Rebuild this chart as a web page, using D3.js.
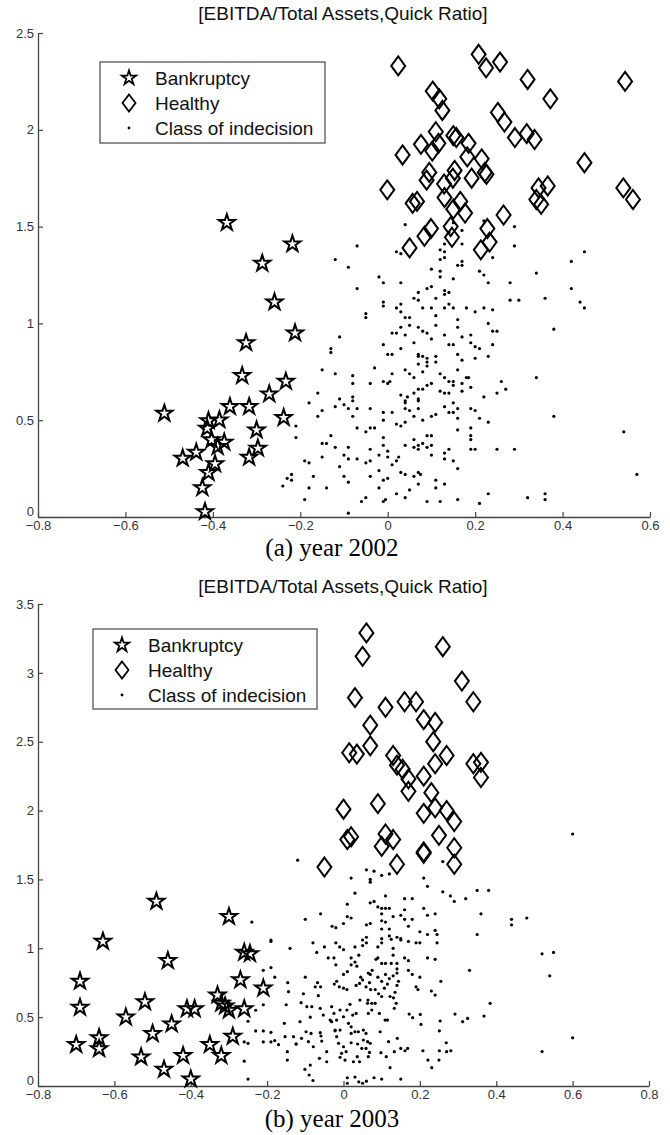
<!DOCTYPE html>
<html>
<head>
<meta charset="utf-8">
<script src="https://cdn.jsdelivr.net/npm/d3@7"></script>
<style>
  body { margin: 0; background: #fff; }
  svg { display: block; }
</style>
</head>
<body>
<svg id="chart" width="670" height="1135"></svg>
<script>
"use strict";

const chartTitle = "[EBITDA/Total Assets,Quick Ratio]";
const legendLabels = ["Bankruptcy", "Healthy", "Class of indecision"];

// year 2002
const xTicks2002 = [-0.8, -0.6, -0.4, -0.2, 0, 0.2, 0.4, 0.6];
const yTicks2002 = [0, 0.5, 1, 1.5, 2, 2.5];

const bankruptcy2002 = [
  [-0.287, 1.31], [-0.218, 1.41], [-0.368, 1.52], [-0.259, 1.11], [-0.212, 0.95],
  [-0.324, 0.90], [-0.333, 0.73], [-0.233, 0.70], [-0.271, 0.635], [-0.361, 0.57],
  [-0.317, 0.57], [-0.511, 0.535], [-0.238, 0.513], [-0.410, 0.497], [-0.385, 0.501],
  [-0.413, 0.458], [-0.300, 0.449], [-0.403, 0.398], [-0.374, 0.386], [-0.389, 0.363],
  [-0.297, 0.355], [-0.317, 0.308], [-0.469, 0.303], [-0.438, 0.334], [-0.395, 0.274],
  [-0.410, 0.229], [-0.424, 0.151], [-0.418, 0.027]
];

const healthy2002 = [
  [0.024, 2.33], [0.208, 2.39], [0.225, 2.32], [0.257, 2.35], [0.320, 2.26],
  [0.543, 2.25], [0.372, 2.16], [0.103, 2.20], [0.118, 2.16], [0.125, 2.10],
  [0.252, 2.09], [0.267, 2.04], [0.110, 1.99], [0.150, 1.97], [0.157, 1.96],
  [0.076, 1.925], [0.116, 1.93], [0.102, 1.89], [0.185, 1.93], [0.291, 1.96],
  [0.318, 1.98], [0.336, 1.95], [0.034, 1.87], [0.182, 1.86], [0.215, 1.85],
  [0.222, 1.78], [0.226, 1.77], [0.153, 1.79], [0.095, 1.78], [0.089, 1.74],
  [0.149, 1.75], [0.192, 1.75], [0.450, 1.83], [0.129, 1.72], [-0.001, 1.69],
  [0.130, 1.65], [0.345, 1.70], [0.366, 1.71], [0.340, 1.64], [0.351, 1.615],
  [0.539, 1.70], [0.561, 1.64], [0.057, 1.62], [0.067, 1.63], [0.166, 1.63],
  [0.150, 1.59], [0.177, 1.57], [0.265, 1.56], [0.084, 1.45], [0.099, 1.49],
  [0.144, 1.50], [0.147, 1.445], [0.228, 1.49], [0.233, 1.42], [0.213, 1.38],
  [0.050, 1.39]
];

const indecision2002 = [
  [0.04, 1.51], [0.13, 1.41], [0.14, 1.47], [0.17, 1.48], [-0.07, 1.40], [0.02, 1.37],
  [0.03, 1.36], [0.12, 1.38], [0.13, 1.37], [0.17, 1.41], [0.29, 1.50], [0.29, 1.40],
  [0.45, 1.37], [0.12, 1.33], [0.13, 1.34], [0.24, 1.34], [0.16, 1.30], [0.17, 1.30],
  [0.17, 1.32], [-0.12, 1.33], [-0.09, 1.29], [0.42, 1.32], [0.22, 1.53], [0.15, 1.52],
  [0.10, 1.28], [0.12, 1.27], [0.12, 1.24], [0.15, 1.23], [0.21, 1.27], [0.22, 1.25],
  [0.34, 1.26], [-0.02, 1.24], [-0.01, 1.21], [0.03, 1.21], [0.23, 1.21], [0.28, 1.21],
  [-0.07, 1.18], [0.09, 1.18], [0.10, 1.19], [0.13, 1.17], [0.14, 1.16], [0.13, 1.15],
  [0.11, 1.13], [0.42, 1.18], [0.07, 1.16], [0.06, 1.13], [0.07, 1.12], [0.28, 1.12],
  [0.30, 1.12], [0.36, 1.13], [0.44, 1.11], [0.45, 1.08],
  [-0.01, 1.09], [-0.01, 1.11], [0.02, 1.08], [0.03, 1.06], [0.03, 1.10], [0.04, 1.03],
  [0.05, 1.03], [0.08, 1.08], [0.10, 1.08], [0.11, 1.04], [0.13, 1.08], [0.14, 1.10],
  [0.15, 1.08], [0.16, 1.02], [0.18, 1.08], [0.20, 1.06], [0.22, 1.08], [0.24, 1.07],
  [0.23, 1.00], [0.24, 0.96], [0.25, 0.96], [0.38, 0.97], [-0.05, 1.05], [-0.05, 1.03],
  [0.11, 0.99], [0.05, 0.99], [0.07, 0.98], [0.08, 0.96], [0.09, 0.95], [0.16, 0.98],
  [0.03, 0.98], [0.01, 0.95], [0.02, 0.95], [-0.11, 0.93],
  [-0.01, 0.89], [0.04, 0.94], [0.06, 0.90], [0.10, 0.92], [0.13, 0.94], [0.14, 0.89],
  [0.15, 0.89], [0.17, 0.93], [0.19, 0.94], [0.19, 0.90], [0.20, 0.88], [0.21, 0.87],
  [0.24, 0.89], [0.03, 0.87], [0.00, 0.84], [0.01, 0.84], [-0.13, 0.85], [-0.13, 0.87],
  [0.07, 0.84], [0.07, 0.83], [0.08, 0.83], [0.09, 0.82], [0.11, 0.83], [0.16, 0.84],
  [0.17, 0.81], [0.20, 0.82], [0.23, 0.83], [0.09, 0.80], [0.11, 0.80], [0.09, 0.78],
  [0.07, 0.79],
  [-0.15, 0.76], [-0.12, 0.74], [-0.08, 0.73], [-0.08, 0.69], [-0.04, 0.69], [-0.03, 0.77],
  [-0.01, 0.70], [0.00, 0.69], [0.005, 0.70], [0.01, 0.74], [0.04, 0.76], [0.05, 0.74],
  [0.06, 0.72], [0.08, 0.75], [0.09, 0.68], [0.10, 0.69], [0.12, 0.74], [0.13, 0.72],
  [0.14, 0.70], [0.15, 0.70], [0.15, 0.68], [0.16, 0.76], [0.17, 0.69], [0.18, 0.72],
  [0.185, 0.72], [0.19, 0.67], [0.17, 0.65], [0.27, 0.66], [0.26, 0.70], [0.25, 0.64],
  [0.22, 0.62], [0.34, 0.72], [-0.16, 0.64], [-0.18, 0.59], [-0.11, 0.61], [-0.08, 0.60],
  [-0.08, 0.62], [-0.12, 0.57], [0.03, 0.63], [0.04, 0.60], [0.045, 0.62], [0.06, 0.64],
  [0.07, 0.66], [0.08, 0.66], [0.07, 0.61], [0.04, 0.59], [0.07, 0.60], [0.12, 0.65],
  [0.13, 0.64], [0.15, 0.59], [0.14, 0.64],
  [-0.15, 0.55], [-0.16, 0.52], [-0.10, 0.58], [-0.09, 0.56], [-0.07, 0.56], [-0.08, 0.52],
  [-0.07, 0.46], [-0.05, 0.44], [-0.04, 0.56], [-0.04, 0.46], [-0.03, 0.46], [-0.01, 0.54],
  [-0.01, 0.50], [0.01, 0.54], [0.02, 0.48], [0.03, 0.47], [0.04, 0.49], [0.04, 0.56],
  [0.05, 0.55], [0.06, 0.52], [0.07, 0.56], [0.08, 0.50], [0.10, 0.52], [0.11, 0.53],
  [0.13, 0.57], [0.14, 0.54], [0.15, 0.54], [0.16, 0.56], [0.16, 0.51], [0.19, 0.56],
  [0.20, 0.55], [0.21, 0.51], [0.23, 0.49], [0.16, 0.45], [0.19, 0.46], [0.38, 0.52],
  [-0.21, 0.47], [-0.21, 0.41], [0.54, 0.44],
  [-0.15, 0.38], [-0.14, 0.38], [-0.13, 0.42], [-0.15, 0.31], [-0.12, 0.36], [-0.11, 0.26],
  [-0.10, 0.32], [-0.09, 0.30], [-0.09, 0.36], [-0.07, 0.30], [-0.04, 0.35], [-0.05, 0.28],
  [-0.04, 0.29], [-0.02, 0.32], [-0.01, 0.41], [-0.01, 0.37], [0.00, 0.31], [0.00, 0.34],
  [0.01, 0.27], [0.02, 0.29], [0.025, 0.31], [0.04, 0.37], [0.06, 0.40], [0.06, 0.36],
  [0.07, 0.37], [0.07, 0.35], [0.08, 0.38], [0.09, 0.42], [0.10, 0.42], [0.10, 0.37],
  [0.09, 0.36], [0.10, 0.32], [0.13, 0.33], [0.13, 0.30], [0.14, 0.35], [0.15, 0.29],
  [0.16, 0.25], [0.19, 0.35], [0.20, 0.35], [0.19, 0.40], [0.19, 0.42], [0.25, 0.35],
  [0.29, 0.35], [-0.19, 0.29], [-0.18, 0.28], [0.57, 0.22],
  [-0.23, 0.20], [-0.22, 0.22], [-0.22, 0.19], [-0.24, 0.16], [-0.17, 0.21], [-0.18, 0.15],
  [-0.19, 0.09], [-0.14, 0.15], [-0.10, 0.21], [-0.09, 0.18], [-0.06, 0.08], [-0.05, 0.10],
  [-0.04, 0.21], [-0.02, 0.24], [-0.02, 0.15], [-0.01, 0.19], [0.00, 0.20], [-0.01, 0.08],
  [-0.005, 0.09], [0.02, 0.12], [0.03, 0.23], [0.04, 0.22], [0.05, 0.14], [0.06, 0.21],
  [0.04, 0.10], [0.07, 0.23], [0.075, 0.22], [0.07, 0.17], [0.09, 0.08], [0.11, 0.19],
  [0.11, 0.15], [0.12, 0.08], [0.13, 0.17], [0.16, 0.09], [0.21, 0.07], [0.23, 0.12],
  [0.32, 0.10], [0.36, 0.09], [0.36, 0.12], [-0.09, 0.02]
];

// year 2003
const xTicks2003 = [-0.8, -0.6, -0.4, -0.2, 0, 0.2, 0.4, 0.6, 0.8];
const yTicks2003 = [0, 0.5, 1, 1.5, 2, 2.5, 3, 3.5];

const bankruptcy2003 = [
  [-0.49, 1.34], [-0.30, 1.23], [-0.63, 1.05], [-0.46, 0.91], [-0.26, 0.97],
  [-0.245, 0.96], [-0.69, 0.76], [-0.27, 0.77], [-0.21, 0.71], [-0.33, 0.66],
  [-0.32, 0.60], [-0.52, 0.61], [-0.69, 0.57], [-0.31, 0.58], [-0.30, 0.55],
  [-0.41, 0.56], [-0.39, 0.56], [-0.26, 0.56], [-0.57, 0.50], [-0.45, 0.45],
  [-0.50, 0.38], [-0.29, 0.36], [-0.64, 0.35], [-0.64, 0.27], [-0.70, 0.30],
  [-0.35, 0.30], [-0.53, 0.21], [-0.42, 0.22], [-0.32, 0.22], [-0.47, 0.12],
  [-0.40, 0.05]
];

const healthy2003 = [
  [0.06, 3.29], [0.05, 3.12], [0.26, 3.19], [0.31, 2.94], [0.34, 2.79],
  [0.03, 2.82], [0.11, 2.75], [0.16, 2.79], [0.19, 2.79], [0.21, 2.66],
  [0.24, 2.64], [0.235, 2.50], [0.07, 2.62], [0.07, 2.47], [0.015, 2.42],
  [0.035, 2.41], [0.27, 2.40], [0.24, 2.34], [0.13, 2.40], [0.14, 2.33],
  [0.155, 2.30], [0.17, 2.23], [0.21, 2.25], [0.17, 2.14], [0.34, 2.34],
  [0.36, 2.35], [0.36, 2.24], [0.23, 2.13], [0.24, 2.02], [0.27, 2.00],
  [0.29, 1.92], [0.21, 1.98], [0.00, 2.01], [0.09, 2.05], [0.01, 1.79],
  [0.02, 1.81], [0.11, 1.83], [0.13, 1.79], [0.10, 1.74], [0.21, 1.70],
  [0.21, 1.69], [0.25, 1.82], [0.29, 1.73], [0.29, 1.61], [0.14, 1.61],
  [-0.05, 1.59]
];

const indecision2003 = [
  [-0.12, 1.64], [0.02, 1.51], [0.06, 1.57], [0.08, 1.56], [0.10, 1.53], [0.12, 1.54],
  [0.07, 1.50], [0.07, 1.48], [0.21, 1.51], [0.22, 1.45], [0.26, 1.63], [0.03, 1.40],
  [0.11, 1.38], [0.26, 1.41], [0.28, 1.38], [0.29, 1.34], [0.32, 1.36], [0.35, 1.42],
  [0.38, 1.42], [0.16, 1.36], [0.18, 1.36], [0.07, 1.33], [0.08, 1.34], [0.01, 1.32],
  [0.09, 1.30], [0.10, 1.29], [0.11, 1.29], [0.12, 1.29], [0.21, 1.29], [0.16, 1.28],
  [-0.06, 1.25], [-0.10, 1.21], [0.01, 1.23], [0.02, 1.22], [0.10, 1.25], [0.13, 1.23],
  [0.22, 1.24], [0.24, 1.25], [0.36, 1.25], [0.15, 1.24], [0.16, 1.21], [0.18, 1.21],
  [0.10, 1.20], [0.11, 1.19], [0.44, 1.21], [0.44, 1.17], [0.48, 1.22], [-0.03, 1.16],
  [-0.02, 1.15], [0.00, 1.18], [0.06, 1.17], [0.07, 1.18], [0.17, 1.16], [0.35, 1.10],
  [0.05, 1.06], [0.06, 1.08], [0.10, 1.14], [0.10, 1.07], [0.12, 1.14], [0.12, 1.09],
  [0.125, 1.065], [0.14, 1.08], [0.15, 1.07], [0.15, 1.06], [0.17, 1.05], [0.19, 1.04],
  [0.20, 1.04], [0.20, 1.12], [0.22, 1.10], [0.24, 1.13], [0.245, 1.10], [0.245, 1.04],
  [-0.14, 1.00], [-0.08, 1.04], [-0.07, 0.97], [-0.05, 1.01], [-0.02, 1.04], [-0.01, 1.01],
  [0.00, 0.99], [0.03, 1.01], [0.04, 0.95], [0.05, 1.02], [0.06, 1.04], [0.09, 1.01],
  [0.10, 1.04], [0.13, 1.00], [0.13, 0.95], [-0.04, 0.93], [-0.025, 0.93], [-0.02, 0.88],
  [0.02, 0.93], [0.03, 0.90], [0.09, 0.93], [0.085, 0.92], [0.10, 0.89], [0.11, 0.89],
  [0.125, 0.89], [0.14, 0.85], [0.14, 0.89], [0.16, 0.93], [0.17, 0.91], [0.17, 0.84],
  [0.22, 0.93], [0.24, 0.92], [0.33, 0.84], [0.52, 0.96], [0.55, 0.97], [0.54, 0.80],
  [0.02, 0.88], [0.035, 0.87], [0.00, 0.81], [0.01, 0.83], [0.045, 0.79], [0.05, 0.77],
  [0.065, 0.82], [0.075, 0.84], [0.07, 0.81], [0.09, 0.79], [0.10, 0.76], [0.11, 0.81],
  [0.12, 0.78], [0.13, 0.80], [0.14, 0.82], [0.18, 0.81], [0.20, 0.79], [0.19, 0.72],
  [0.195, 0.70], [0.23, 0.69], [0.24, 0.66], [0.255, 0.76], [-0.146, 0.75], [-0.144, 0.685],
  [-0.15, 0.59], [-0.10, 0.79], [-0.105, 0.67], [-0.074, 0.72], [-0.06, 0.72], [-0.068, 0.75],
  [-0.024, 0.74], [-0.018, 0.76], [-0.011, 0.72], [0.00, 0.71], [0.009, 0.70], [0.033, 0.73],
  [0.042, 0.745], [0.059, 0.72], [0.071, 0.70], [0.068, 0.75], [0.083, 0.70], [0.092, 0.67],
  [0.10, 0.65], [0.107, 0.71], [0.115, 0.74], [0.122, 0.65], [0.131, 0.64], [0.135, 0.68],
  [0.14, 0.73], [0.144, 0.76], [-0.111, 0.605], [-0.096, 0.576], [-0.083, 0.576], [-0.087, 0.50],
  [-0.066, 0.656], [-0.061, 0.564], [-0.053, 0.515], [-0.031, 0.576], [-0.025, 0.527],
  [-0.018, 0.479], [-0.009, 0.552], [0.00, 0.503], [0.009, 0.552], [0.017, 0.593],
  [0.024, 0.515], [0.033, 0.527], [0.043, 0.624], [0.013, 0.455], [0.02, 0.43], [-0.009, 0.406],
  [-0.022, 0.406], [-0.031, 0.467], [-0.035, 0.479], [0.064, 0.624], [0.063, 0.60],
  [0.074, 0.60], [0.083, 0.60], [0.065, 0.527], [0.074, 0.552], [0.094, 0.527], [0.109, 0.479],
  [0.115, 0.479], [0.133, 0.564], [0.138, 0.60], [0.172, 0.522], [0.181, 0.496], [0.201, 0.52],
  [0.203, 0.447], [0.253, 0.472], [0.251, 0.401], [0.292, 0.522], [0.312, 0.467], [0.325, 0.491],
  [0.368, 0.508], [0.384, 0.60], [-0.155, 0.455], [-0.114, 0.467], [-0.124, 0.305],
  [-0.085, 0.382], [-0.061, 0.387], [-0.059, 0.363], [-0.057, 0.326], [-0.153, 0.358],
  [-0.022, 0.401], [-0.018, 0.358], [-0.013, 0.31], [0.00, 0.285], [0.02, 0.382], [0.03, 0.394],
  [0.039, 0.394], [0.052, 0.406], [0.059, 0.382], [0.052, 0.334], [0.063, 0.322], [0.07, 0.31],
  [0.096, 0.394], [0.118, 0.322], [0.141, 0.346], [0.037, 0.305], [0.048, 0.273], [0.059, 0.273],
  [0.098, 0.242], [0.112, 0.213], [0.133, 0.249], [0.15, 0.273], [0.161, 0.256], [0.168, 0.273],
  [0.02, 0.314], [0.007, 0.249], [-0.005, 0.237], [-0.009, 0.208], [0.004, 0.188], [0.026, 0.176],
  [0.042, 0.176], [-0.044, 0.249], [-0.044, 0.176], [-0.063, 0.201], [-0.087, 0.152],
  [-0.101, 0.121], [-0.147, 0.249], [0.065, 0.213], [0.068, 0.244], [0.036, 0.213],
  [0.208, 0.256], [0.221, 0.188], [0.25, 0.188], [0.251, 0.256], [0.27, 0.249], [0.281, 0.256],
  [0.269, 0.314], [0.52, 0.25], [0.60, 0.35], [0.231, 0.133], [0.122, 0.133], [0.60, 1.83],
  [-0.24, 1.19], [-0.19, 1.06], [-0.19, 1.05], [-0.21, 0.84], [-0.19, 0.86], [-0.18, 0.79],
  [-0.21, 0.59], [-0.23, 0.55], [-0.25, 0.47], [-0.23, 0.40], [-0.21, 0.40], [-0.19, 0.39],
  [-0.18, 0.33], [-0.21, 0.32], [-0.19, 0.32], [-0.26, 0.32], [-0.25, 0.31], [-0.17, 0.30],
  [-0.131, 0.358], [-0.124, 0.305], [-0.11, 0.346], [-0.098, 0.394], [-0.092, 0.322],
  [-0.079, 0.285], [-0.26, 0.18], [-0.147, 0.188], [-0.25, 0.05], [-0.09, 0.08], [-0.08, 0.04],
  [0.01, 0.02], [0.04, 0.03], [0.05, 0.02], [0.06, 0.035], [0.01, 0.06], [0.03, 0.065],
  [0.08, 0.06], [0.10, 0.05], [0.15, 0.05]
];

const panels = [
  {
    bankruptcy: bankruptcy2002, healthy: healthy2002, indecision: indecision2002,
    xTicks: xTicks2002, yTicks: yTicks2002, caption: "(a) year 2002",
    xRange: [38, 650], yRange: [517, 33], titleY: 20, captionY: 556,
    legend: { x: 100, y: 62, w: 225, h: 81 }
  },
  {
    bankruptcy: bankruptcy2003, healthy: healthy2003, indecision: indecision2003,
    xTicks: xTicks2003, yTicks: yTicks2003, caption: "(b) year 2003",
    xRange: [38, 649], yRange: [1086, 604], titleY: 593, captionY: 1127,
    legend: { x: 93, y: 629, w: 224, h: 80 }
  }
];

const svg = d3.select("#chart");

const starPath = (R) => {
  const r = R * 0.382;
  let pts = [];
  for (let i = 0; i < 10; i++) {
    const rad = i % 2 === 0 ? R : r;
    const a = -Math.PI / 2 + (i * Math.PI) / 5;
    pts.push([rad * Math.cos(a), rad * Math.sin(a)]);
  }
  return "M" + pts.map((p) => p[0].toFixed(2) + "," + p[1].toFixed(2)).join("L") + "Z";
};

const diamondPath = (w, h) => `M0,${-h}L${w},0L0,${h}L${-w},0Z`;

const fmt = (d) => (d < 0 ? "\u2212" + String(-d) : String(d));

const drawPanel = (p) => {
  const x = d3.scaleLinear().domain(d3.extent(p.xTicks)).range(p.xRange);
  const y = d3.scaleLinear().domain(d3.extent(p.yTicks)).range(p.yRange);
  const g = svg.append("g");

  g.append("text")
    .attr("x", 343)
    .attr("y", p.titleY)
    .attr("text-anchor", "middle")
    .attr("font-family", "Liberation Sans, Arial, sans-serif")
    .attr("font-size", 19)
    .attr("fill", "#111")
    .text(chartTitle);

  const xAxis = g.append("g")
    .attr("transform", `translate(0,${p.yRange[0]})`)
    .call(d3.axisBottom(x).tickValues(p.xTicks).tickFormat(fmt)
      .tickSizeInner(-5).tickSizeOuter(0).tickPadding(4));
  const yAxis = g.append("g")
    .attr("transform", `translate(${p.xRange[0]},0)`)
    .call(d3.axisLeft(y).tickValues(p.yTicks).tickFormat(fmt)
      .tickSizeInner(-5).tickSizeOuter(0).tickPadding(4));

  [xAxis, yAxis].forEach((a) => {
    a.select(".domain").attr("stroke", "#444").attr("stroke-width", 1.3);
    a.selectAll(".tick line").attr("stroke", "#444").attr("stroke-width", 1.2);
    a.selectAll(".tick text")
      .attr("font-family", "Liberation Sans, Arial, sans-serif")
      .attr("font-size", 13)
      .attr("fill", "#333");
  });
  yAxis.selectAll(".tick text").filter((d) => d === 0).attr("dy", "-0.1em");

  g.append("g")
    .selectAll("circle")
    .data(p.indecision)
    .enter()
    .append("circle")
    .attr("cx", (d) => x(d[0]))
    .attr("cy", (d) => y(d[1]))
    .attr("r", 1.6)
    .attr("fill", "#000");

  g.append("g")
    .selectAll("path")
    .data(p.healthy)
    .enter()
    .append("path")
    .attr("d", diamondPath(7, 9.5))
    .attr("transform", (d) => `translate(${x(d[0])},${y(d[1])})`)
    .attr("fill", "none")
    .attr("stroke", "#000")
    .attr("stroke-width", 2);

  g.append("g")
    .selectAll("path")
    .data(p.bankruptcy)
    .enter()
    .append("path")
    .attr("d", starPath(8.5))
    .attr("transform", (d) => `translate(${x(d[0])},${y(d[1])})`)
    .attr("fill", "none")
    .attr("stroke", "#000")
    .attr("stroke-width", 2)
    .attr("stroke-linejoin", "miter");

  // legend
  const L = p.legend;
  const lg = g.append("g").attr("transform", `translate(${L.x},${L.y})`);
  lg.append("rect")
    .attr("width", L.w)
    .attr("height", L.h)
    .attr("fill", "#fff")
    .attr("stroke", "#555")
    .attr("stroke-width", 1.3);
  const rowY = [16, 41, 66];
  lg.append("path").attr("d", starPath(7.5)).attr("transform", `translate(29,${rowY[0]})`)
    .attr("fill", "none").attr("stroke", "#000").attr("stroke-width", 1.8);
  lg.append("path").attr("d", diamondPath(6.5, 8.5)).attr("transform", `translate(29,${rowY[1]})`)
    .attr("fill", "none").attr("stroke", "#000").attr("stroke-width", 1.8);
  lg.append("circle").attr("cx", 29).attr("cy", rowY[2]).attr("r", 1.4).attr("fill", "#000");
  lg.selectAll("text.lab")
    .data(legendLabels)
    .enter()
    .append("text")
    .attr("class", "lab")
    .attr("x", 55)
    .attr("y", (d, i) => rowY[i])
    .attr("dy", "0.36em")
    .attr("font-family", "Liberation Sans, Arial, sans-serif")
    .attr("font-size", 19)
    .attr("fill", "#111")
    .text((d) => d);

  g.append("text")
    .attr("x", 332)
    .attr("y", p.captionY)
    .attr("text-anchor", "middle")
    .attr("font-family", "Liberation Serif, Times New Roman, serif")
    .attr("font-size", 25)
    .attr("fill", "#000")
    .text(p.caption);
};

panels.forEach(drawPanel);
</script>
</body>
</html>
